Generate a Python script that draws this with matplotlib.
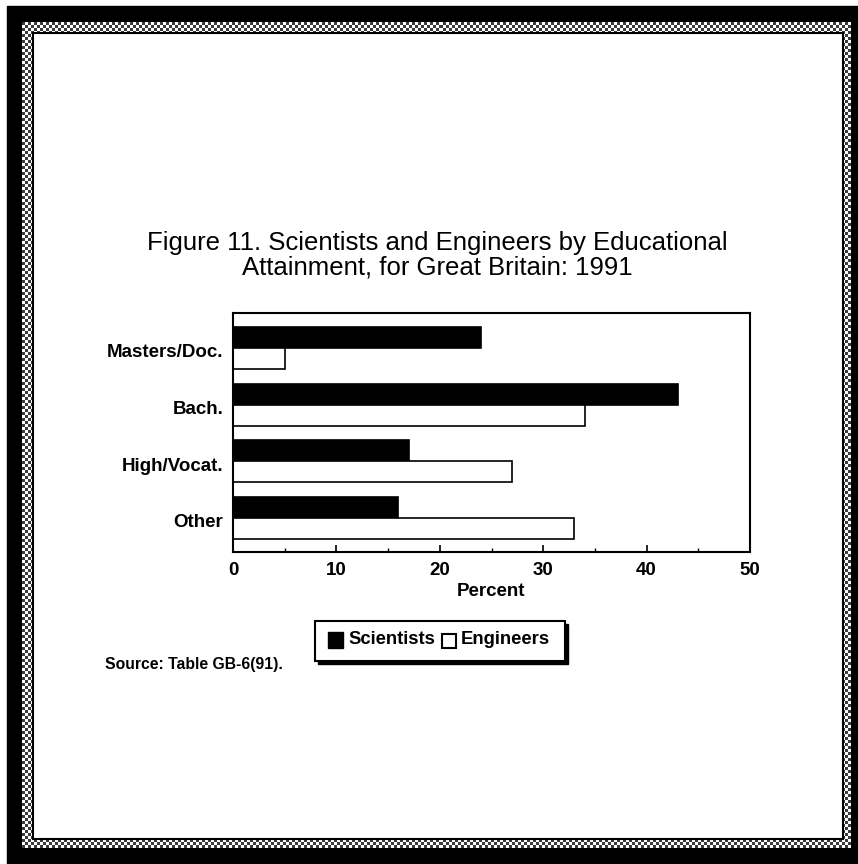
import numpy as np
import matplotlib
matplotlib.use('Agg')
import matplotlib.pyplot as plt
from matplotlib.patches import Rectangle, Polygon

categories = ['Masters/Doc.', 'Bach.', 'High/Vocat.', 'Other']
scientists = [24, 43, 17, 16]
engineers = [5, 34, 27, 33]
x_ticks = [0, 10, 20, 30, 40, 50]

W, H = 858, 864
plt.rcParams['font.family'] = ['Liberation Sans', 'DejaVu Sans']

fig = plt.figure(figsize=(W / 100, H / 100), dpi=100)

# page frame drawn in pixel coordinates on a background axes
bg = fig.add_axes([0, 0, 1, 1], zorder=0)
bg.set_xlim(0, W)
bg.set_ylim(H, 0)
bg.axis('off')
bg.add_patch(Rectangle((7, 6), W - 7, H - 6, color='black', zorder=0))
# dithered checker band inside the black border
yy, xx = np.mgrid[0:(848 - 22) // 3, 0:(851 - 22) // 3]
checker = ((xx + yy) % 2).astype(float)
bg.imshow(checker, cmap='gray', extent=(22, 851, 848, 22), interpolation='nearest',
          vmin=-0.3, vmax=1, zorder=1, aspect='auto')
bg.add_patch(Rectangle((33, 33), 843 - 33, 839 - 33, facecolor='white',
                       edgecolor='black', lw=1.5, zorder=2))
bg.set_xlim(0, W)
bg.set_ylim(H, 0)

fig.text(437 / W, 1 - 243 / H, 'Figure 11. Scientists and Engineers by Educational',
         ha='center', va='center', fontsize=18.5, zorder=5)
fig.text(437 / W, 1 - 267 / H, 'Attainment, for Great Britain: 1991',
         ha='center', va='center', fontsize=18.5, zorder=5)

ax = fig.add_axes([233 / W, 1 - 552 / H, (750 - 233) / W, (552 - 313) / H], zorder=3)
y = np.arange(len(categories))
h = 0.37
ax.barh(y - h / 2, scientists, height=h, color='black', edgecolor='black', lw=1.2)
ax.barh(y + h / 2, engineers, height=h, color='white', edgecolor='black', lw=1.2)
ax.set_ylim(len(categories) - 0.4, -0.62)
ax.set_xlim(0, 50)
ax.set_xticks(x_ticks)
ax.set_xticks(np.arange(5, 50, 10), minor=True)
ax.set_xticklabels([str(t) for t in x_ticks], fontsize=13.5, fontweight='bold')
ax.set_yticks(y + 0.05)
ax.set_yticklabels(categories, fontsize=13.5, fontweight='bold')
ax.tick_params(axis='y', length=0, pad=7)
ax.tick_params(axis='x', which='major', direction='in', length=5, width=1.2, pad=7)
ax.tick_params(axis='x', which='minor', direction='in', length=3, width=1)
for s in ax.spines.values():
    s.set_linewidth(1.5)
ax.set_xlabel('Percent', fontsize=13.5, fontweight='bold', labelpad=3)

# legend box with ragged shadow
lx0, ly0, lx1, ly1 = 315, 621, 565, 661
bg.add_patch(Polygon([(lx0 + 3, ly1), (lx0 + 3, ly1 + 3), (lx1 + 3, ly1 + 3), (lx1 + 3, ly0 + 3),
                      (lx1, ly0 + 3), (lx1, ly1)], closed=True, facecolor='black',
                     edgecolor='black', lw=1, zorder=4))
bg.add_patch(Rectangle((lx0, ly0), lx1 - lx0, ly1 - ly0, facecolor='white',
                       edgecolor='black', lw=1.5, zorder=5))
bg.add_patch(Rectangle((328, 632), 15, 16, facecolor='black', edgecolor='black', zorder=6))
bg.add_patch(Rectangle((442, 634), 14, 14, facecolor='white', edgecolor='black', lw=1.5, zorder=6))
bg.text(348, 640, 'Scientists', fontsize=13.3, fontweight='bold', va='center', zorder=6)
bg.text(461, 640, 'Engineers', fontsize=13.3, fontweight='bold', va='center', zorder=6)

bg.text(105, 664, 'Source: Table GB-6(91).', fontsize=11.3, fontweight='bold', va='center', zorder=6)

fig.savefig('out.png', dpi=100)
